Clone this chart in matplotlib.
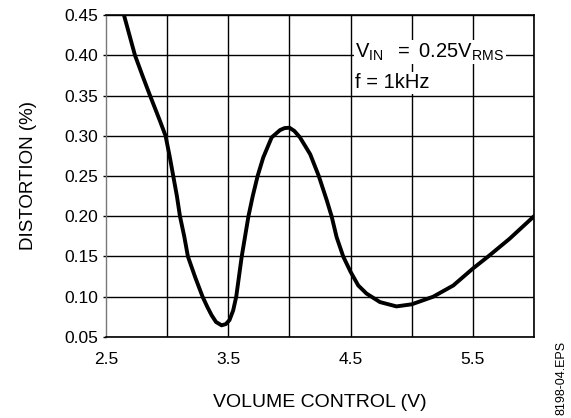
import matplotlib
matplotlib.use("Agg")
import matplotlib.pyplot as plt
import numpy as np

plt.rcParams["font.family"] = ["Liberation Sans", "DejaVu Sans"]
plt.rcParams["mathtext.fontset"] = "custom"
plt.rcParams["mathtext.rm"] = "Liberation Sans"
plt.rcParams["mathtext.it"] = "Liberation Sans"

# distortion vs volume control voltage
volume = [2.647, 2.737, 2.80, 2.86, 2.94, 2.987, 3.02, 3.05, 3.08, 3.105,
          3.14, 3.17, 3.23, 3.29, 3.33, 3.364, 3.40, 3.445, 3.48, 3.51,
          3.54, 3.565, 3.61, 3.665, 3.70, 3.74, 3.786, 3.855, 3.923, 3.96,
          4.0, 4.04, 4.086, 4.17, 4.24, 4.305, 4.345, 4.386, 4.44, 4.5,
          4.563, 4.63, 4.74, 4.875, 5.0, 5.175, 5.34, 5.5, 5.625, 5.80, 6.0]
distortion = [0.45, 0.40, 0.374, 0.35, 0.319, 0.30, 0.275, 0.25, 0.225, 0.20,
              0.175, 0.15, 0.124, 0.10, 0.087, 0.077, 0.0686, 0.0645, 0.066, 0.071,
              0.083, 0.10, 0.15, 0.20, 0.225, 0.25, 0.273, 0.298, 0.307, 0.3095,
              0.31, 0.306, 0.298, 0.277, 0.25, 0.22, 0.20, 0.174, 0.15, 0.131,
              0.114, 0.104, 0.0934, 0.088, 0.0906, 0.10, 0.114, 0.135, 0.15, 0.172, 0.20]

x_ticks = [2.5, 3.5, 4.5, 5.5]
y_ticks = [0.05, 0.10, 0.15, 0.20, 0.25, 0.30, 0.35, 0.40, 0.45]


def main():
    fig = plt.figure(figsize=(5.71, 4.18), dpi=100)
    ax = fig.add_axes([0.1856, 0.1938, 0.7496, 0.7703])

    # grid every 0.5 V / 0.05 %
    for gx in np.arange(3.0, 6.01, 0.5):
        ax.axvline(gx, color="black", lw=1.0, zorder=1)
    for gy in y_ticks:
        ax.axhline(gy, color="black", lw=1.0, zorder=1)

    ax.plot(volume, distortion, color="black", lw=2.8, solid_capstyle="round",
            solid_joinstyle="round", zorder=3)

    ax.set_xlim(2.5, 6.0)
    ax.set_ylim(0.05, 0.45)
    ax.set_xticks(x_ticks)
    ax.set_xticklabels([f"{t:.1f}" for t in x_ticks])
    ax.set_yticks(y_ticks)
    ax.set_yticklabels([f"{t:.2f}" for t in y_ticks])
    ax.tick_params(labelsize=12.5)
    ax.tick_params(axis="x", length=0, pad=11)
    ax.tick_params(axis="y", length=2.5, width=1.0, pad=3)
    for s in ax.spines.values():
        s.set_linewidth(1.2)
    ax.spines["left"].set_color("#777777")
    ax.spines["left"].set_linewidth(1.0)

    ax.set_xlabel("VOLUME CONTROL (V)", fontsize=14, labelpad=19)
    ax.set_ylabel("DISTORTION (%)", fontsize=13.5, labelpad=20)

    box = dict(facecolor="white", edgecolor="none", pad=1)
    ax.text(4.54, 0.397, r"$\mathrm{V_{IN}\ \ =\ 0.25V_{RMS}}$", fontsize=14.5,
            ha="left", va="baseline", bbox=box, zorder=4)
    ax.text(4.54, 0.359, "f = 1kHz", fontsize=14.5, ha="left", va="baseline",
            bbox=box, zorder=4)

    fig.text(0.984, 0.095, "8198-04.EPS", rotation=90, fontsize=9,
             ha="center", va="center")

    fig.savefig("out.png", dpi=100)


if __name__ == "__main__":
    main()
